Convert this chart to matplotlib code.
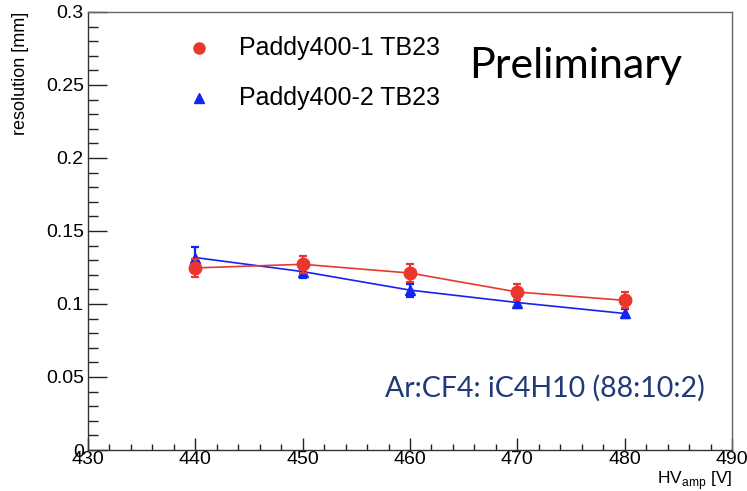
import numpy as np
import matplotlib
matplotlib.use("Agg")
import matplotlib.pyplot as plt
from matplotlib.ticker import MultipleLocator

# data
hv = [440, 450, 460, 470, 480]
res_1 = [0.1247, 0.1272, 0.1212, 0.1082, 0.1025]
err_1 = [0.0062, 0.0060, 0.0060, 0.0058, 0.0055]
res_2 = [0.1318, 0.1222, 0.1095, 0.1010, 0.0935]
err_2 = [0.0075, 0.0045, 0.0045, 0.0035, 0.0030]
labels = ["Paddy400-1 TB23", "Paddy400-2 TB23"]

plt.rcParams['font.family'] = ['Liberation Sans', 'DejaVu Sans']

fig = plt.figure(figsize=(7.47, 4.91), dpi=100)
ax = fig.add_axes([0.1178, 0.0835, 0.8622, 0.8921])

red = '#e8382e'
blue = '#1424f0'

ax.errorbar(hv, res_1, yerr=err_1, color=red, marker='o', markersize=9,
            lw=1.2, elinewidth=1.6, capsize=3, capthick=1.6, zorder=3)
ax.errorbar(hv, res_2, yerr=err_2, color=blue, marker='^', markersize=7.5,
            lw=1.2, elinewidth=1.6, capsize=3, capthick=1.6, zorder=2)

ax.set_xlim(430, 490)
ax.set_ylim(0, 0.3)
ax.xaxis.set_major_locator(MultipleLocator(10))
ax.xaxis.set_minor_locator(MultipleLocator(2))
ax.yaxis.set_minor_locator(MultipleLocator(0.01))
ax.set_yticks([0, 0.05, 0.1, 0.15, 0.2, 0.25, 0.3])
ax.set_yticklabels(['0', '0.05', '0.1', '0.15', '0.2', '0.25', '0.3'])
ax.tick_params(axis='both', which='both', direction='in', labelsize=14,
               color='#222222', width=1)
ax.tick_params(axis='y', which='major', length=13.5, pad=3)
ax.tick_params(axis='y', which='minor', length=7)
ax.tick_params(axis='x', which='major', length=9, pad=1)
ax.tick_params(axis='x', which='minor', length=4.5)
for s in ax.spines.values():
    s.set_linewidth(1.0)
    s.set_color('#333333')
for s in ['top', 'right']:
    ax.spines[s].set_color('#666666')

ax.set_ylabel('resolution [mm]', fontsize=13, loc='top', labelpad=12)
ax.set_xlabel(r'HV$_{\mathregular{amp}}$ [V]', fontsize=12.5, ha='right', va='top')
ax.xaxis.set_label_coords(1.0, -0.043)

# legend drawn as markers + text
ax.plot([0.172], [0.918], transform=ax.transAxes, marker='o', color=red,
        markersize=8, linestyle='none', clip_on=False)
ax.plot([0.172], [0.803], transform=ax.transAxes, marker='^', color=blue,
        markersize=7, linestyle='none', clip_on=False)
ax.text(0.235, 0.918, labels[0], transform=ax.transAxes, fontsize=18,
        va='center', ha='left')
ax.text(0.235, 0.803, labels[1], transform=ax.transAxes, fontsize=18,
        va='center', ha='left')

fig.text(0.628, 0.865, 'Preliminary', fontsize=31, family=['Lato', 'DejaVu Sans'],
         va='center', ha='left')
fig.text(0.516, 0.21, 'Ar:CF4: iC4H10 (88:10:2)', fontsize=20.5,
         family=['Lato', 'DejaVu Sans'], color='#203a78', va='center', ha='left')

fig.savefig('out.png', dpi=100)
